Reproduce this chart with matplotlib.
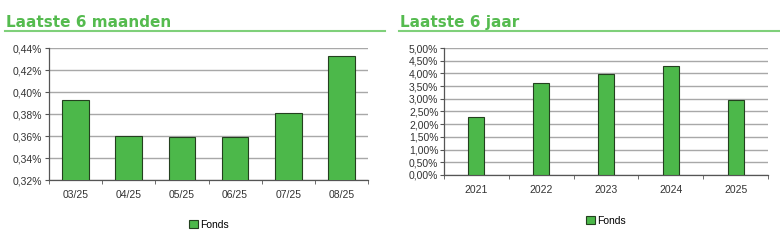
import numpy as np
import matplotlib
matplotlib.use("Agg")
import matplotlib.pyplot as plt
from matplotlib.patches import Patch
from matplotlib.lines import Line2D

# data
months = ["03/25", "04/25", "05/25", "06/25", "07/25", "08/25"]
month_vals = [0.393, 0.360, 0.359, 0.359, 0.381, 0.433]
years = ["2021", "2022", "2023", "2024", "2025"]
year_vals = [2.29, 3.62, 3.97, 4.30, 2.97]
series_name = "Fonds"

GREEN = "#4cb84a"
TITLE_GREEN = "#55bb4f"
EDGE = "#24401f"
GRID = "#a8a8a8"

plt.rcParams['font.family'] = ['Liberation Sans', 'DejaVu Sans']

W, H = 780, 242
fig = plt.figure(figsize=(W / 100, H / 100), dpi=100)


def px_axes(x0, y0, x1, y1):
    return fig.add_axes([x0 / W, 1 - y1 / H, (x1 - x0) / W, (y1 - y0) / H])


def pct(v, pos=None):
    return f"{v:.2f}%".replace(".", ",")


def style(ax, cats, vals, width, ymin, ymax, step):
    x = np.arange(len(cats))
    ax.bar(x, vals, width=width, color=GREEN, edgecolor=EDGE, linewidth=0.8, zorder=3)
    ax.set_xlim(-0.5, len(cats) - 0.5)
    ax.set_ylim(ymin, ymax)
    ax.set_yticks(np.arange(ymin, ymax + step / 2, step))
    ax.yaxis.set_major_formatter(plt.FuncFormatter(pct))
    ax.set_xticks(x)
    ax.set_xticklabels(cats)
    ax.set_xticks(np.arange(-0.5, len(cats)), minor=True)
    ax.tick_params(axis="x", which="major", length=0, pad=7, labelsize=7.5, colors="#333333")
    ax.tick_params(axis="x", which="minor", length=3, color="#555555")
    ax.tick_params(axis="y", length=3, pad=2, labelsize=7.5, colors="#333333", color="#555555")
    ax.grid(axis="y", color=GRID, linewidth=1, zorder=0)
    for s in ("top", "right"):
        ax.spines[s].set_visible(False)
    for s in ("left", "bottom"):
        ax.spines[s].set_color("#555555")
        ax.spines[s].set_linewidth(0.9)


def header(text, x0, x1):
    fig.text((x0 + 1) / W, 1 - 27 / H, text, fontsize=11, fontweight="bold",
             family="DejaVu Sans", color=TITLE_GREEN, ha="left", va="baseline")
    fig.add_artist(Line2D([x0 / W, x1 / W], [1 - 31 / H] * 2,
                          color="#7fd07a", linewidth=1.5))


def legend(cx, cy):
    h = Patch(facecolor=GREEN, edgecolor=EDGE, linewidth=0.8)
    fig.legend([h], [series_name], loc="center", bbox_to_anchor=(cx / W, 1 - cy / H),
               frameon=False, fontsize=7.5, handlelength=0.8, handleheight=0.8,
               handletextpad=0.2, borderpad=0)


ax1 = px_axes(49, 48, 368, 180)
style(ax1, months, month_vals, 0.5, 0.32, 0.44, 0.02)
header("Laatste 6 maanden", 5, 385)
legend(209, 225)

ax2 = px_axes(444, 48, 768, 175)
style(ax2, years, year_vals, 0.25, 0.0, 5.0, 0.5)
ax2.tick_params(axis="y", pad=1)
header("Laatste 6 jaar", 399, 780)
legend(606, 221)

fig.savefig("out.png", dpi=100)
